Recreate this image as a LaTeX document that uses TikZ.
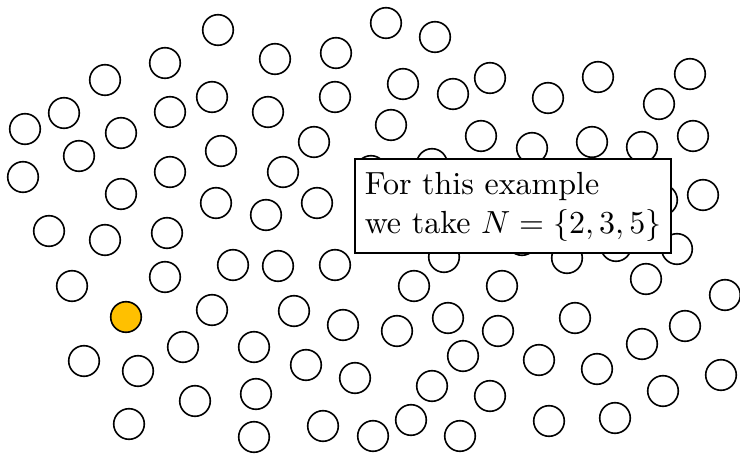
\RequirePackage{fix-cm}
\documentclass[tikz,border=0pt]{standalone}
\definecolor{goldfill}{RGB}{255,192,0}
\begin{document}
\begin{tikzpicture}[x=1pt,y=-1pt,
  dot/.style={circle,draw=black,line width=1.6pt,minimum size=30.6pt,inner sep=0pt,fill=white},
  golddot/.style={dot,fill=goldfill},
  infobox/.style={draw=black,line width=2.2pt,fill=white,inner sep=0pt,minimum width=316pt,minimum height=94pt}]
\useasboundingbox (0,0) rectangle (740,454);
\foreach \x/\y [count=\i] in {218/30,165/63,105/80,212/97,64/113,170/112,25/129,121/133,79/156,221/151,
  23/177,170/172,121/194,216/203,49/231,105/240,167/233,233/265,72/286,165/277,
  212/310,183/347,254/347,84/361,138/371,195/401,256/394,129/424,254/437,
  386/23,435/37,275/59,336/53,403/84,453/94,490/78,268/112,335/97,391/125,
  314/142,481/136,283/172,317/203,266/215,371/171,432/164,278/266,335/265,444/257,
  414/286,294/311,343/325,397/331,448/318,306/365,355/378,463/356,432/386,323/426,
  373/436,411/420,460/436,522/240,
  548/98,598/77,690/74,659/104,532/148,592/142,642/147,693/136,703/195,662/200,
  567/258,616/246,677/249,502/286,646/279,725/295,498/331,575/318,685/326,642/344,
  539/360,597/369,721/375,490/396,663/391,549/421,615/418}
  \node[dot] (c\i) at (\x,\y) {};
\node[golddot] (start) at (126,317) {};
\node[infobox,anchor=west] (note) at (354,206) {\scalebox{3.2}{\fontsize{10}{12.2}\selectfont\begin{tabular}{@{}l@{}}For this example\\we take $N=\{2,3,5\}$\end{tabular}}};
\end{tikzpicture}
\end{document}
